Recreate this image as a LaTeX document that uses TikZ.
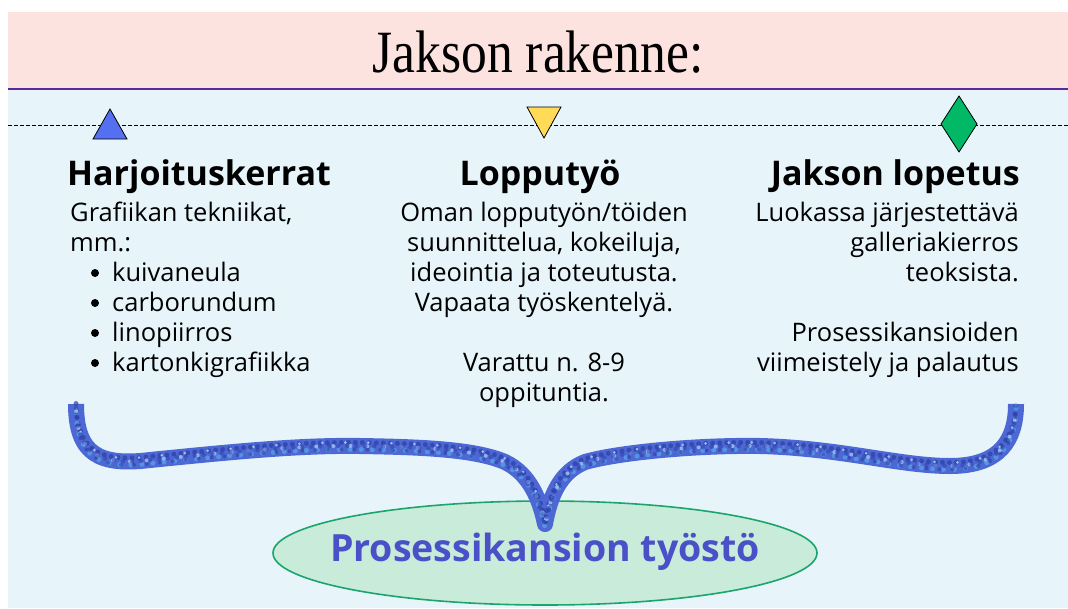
\documentclass[tikz,border=0pt]{standalone}
\usepackage{fontspec}
\setmainfont{Open Sans}
\newfontfamily\titlefont{Liberation Serif}
\usetikzlibrary{shapes.geometric}
\definecolor{bandpink}{HTML}{FDE3E0}
\definecolor{bandline}{HTML}{5B2A9A}
\definecolor{paneblue}{HTML}{E7F5FB}
\definecolor{mkblue}{HTML}{5470F0}
\definecolor{mkyellow}{HTML}{FFDB58}
\definecolor{mkgreen}{HTML}{00B865}
\definecolor{glitter}{HTML}{4D68D4}
\definecolor{glitterlight}{HTML}{A8C4F4}
\definecolor{glitterdark}{HTML}{2C3FA6}
\definecolor{glittercyan}{HTML}{58A8E8}
\definecolor{goalfill}{HTML}{C9EBD9}
\definecolor{goalline}{HTML}{1BA56C}
\definecolor{goaltext}{HTML}{4A50C8}
\newcommand{\listindent}{\hspace*{42pt}}
\tikzset{
  hdr/.style={font=\fontsize{34}{40}\selectfont\bfseries, inner sep=0pt},
  body/.style={font=\fontsize{25.5}{30}\selectfont, inner sep=0pt},
  marker/.style={draw=black, line width=0.8pt, line join=miter},
  speck/.style={line cap=round, dash pattern=on 0pt off #1},
}
\begin{document}
\begin{tikzpicture}[x=1pt,y=-1pt]
\useasboundingbox (0,0) rectangle (1068,608);
\fill[white] (0,0) rectangle (1068,608);
% panels
\fill[paneblue] (8,89) rectangle (1068,608);
\fill[bandpink] (8,12) rectangle (1068,89);
\draw[bandline, line width=2.2pt] (8,89) -- (1068,89);
\node[inner sep=0pt, anchor=base] (title) at (538,72)
  {\scalebox{0.86}[1]{\titlefont\fontsize{60}{66}\selectfont Jakson rakenne:}};

% timeline
\coordinate (tl) at (8,125);
\coordinate (tr) at (1068,125);
\draw[line width=1pt, dash pattern=on 4pt off 2pt] (tl) -- (tr);
\coordinate (mkA) at (110,124);
\coordinate (mkB) at (544,122);
\coordinate (mkC) at (959,124);
\draw[marker, fill=mkblue] ([shift={(0,-15)}]mkA) -- ([shift={(17,15)}]mkA) -- ([shift={(-17,15)}]mkA) -- cycle;
\draw[marker, fill=mkyellow] ([shift={(-17,-15)}]mkB) -- ([shift={(17,-15)}]mkB) -- ([shift={(0,16)}]mkB) -- cycle;
\draw[marker, fill=mkgreen] ([shift={(0,-28)}]mkC) -- ([shift={(18,0)}]mkC) -- ([shift={(0,28)}]mkC) -- ([shift={(-18,0)}]mkC) -- cycle;

% column headers
\node[hdr, anchor=base west] (hdrA) at (67,185) {Harjoituskerrat};
\node[hdr, anchor=base] (hdrB) at (540,185) {Lopputyö};
\node[hdr, anchor=base east] (hdrC) at (1020,185) {Jakson lopetus};

% column texts
\node[body, anchor=north west, align=left] (txtA) at (70,202)
  {Grafiikan tekniikat,\\
   mm.:\\
   \listindent kuivaneula\\
   \listindent carborundum\\
   \listindent linopiirros\\
   \listindent kartonkigrafiikka};
% list bullets
\foreach \k in {0,...,3}
  \fill (95,{273+30*\k}) circle (4pt);
\node[body, anchor=north, align=center] (txtB) at (544,202)
  {Oman lopputyön/töiden\\
   suunnittelua, kokeiluja,\\
   ideointia ja toteutusta.\\
   Vapaata työskentelyä.\\[30pt]
   Varattu n. 8-9\\
   oppituntia.};
\node[body, anchor=north east, align=right] (txtC) at (1019,202)
  {Luokassa järjestettävä\\
   galleriakierros\\
   teoksista.\\[30pt]
   Prosessikansioiden\\
   viimeistely ja palautus};

% goal ellipse
\node[ellipse, draw=goalline, line width=1.6pt, fill=goalfill,
      minimum width=544pt, minimum height=104pt, inner sep=0pt] (goal) at (545,553) {};
\node[inner sep=0pt, text=goaltext, font=\fontsize{37.5}{44}\selectfont\bfseries] (goallbl) at ([yshift=1pt]goal.center) {Prosessikansion työstö};

% glitter brace joining the three columns into the goal
\coordinate (braceL) at (76,404);
\coordinate (braceR) at (1016,404);
\coordinate (braceTip) at (545,524);
\def\bracepath{(braceL) .. controls (76,455) and (100,466) .. (150,460)
  .. controls (230,452) and (300,445) .. (360,446)
  .. controls (420,447) and (475,449) .. (505,462)
  .. controls (530,474) and (540,500) .. (braceTip)
  .. controls (550,496) and (560,472) .. (585,462)
  .. controls (620,452) and (700,445) .. (760,446)
  .. controls (840,448) and (900,466) .. (950,466)
  .. controls (1000,466) and (1016,440) .. (braceR)}
\draw[glitter, line width=16pt, line join=round] \bracepath;
\begin{scope}[transform canvas={yshift=3.5pt}]
  \draw[glitterdark, line width=5pt, speck=7pt, dash phase=4pt, opacity=0.7] \bracepath;
  \draw[glitterlight, line width=3pt, speck=23pt, dash phase=14pt, opacity=0.9] \bracepath;
\end{scope}
\begin{scope}[transform canvas={yshift=-3.5pt}]
  \draw[glittercyan, line width=5pt, speck=11pt, dash phase=6pt, opacity=0.7] \bracepath;
  \draw[glitterdark, line width=4pt, speck=13pt, dash phase=8pt, opacity=0.6] \bracepath;
\end{scope}
\draw[glitterlight, line width=4pt, speck=17pt, dash phase=10pt, opacity=0.8] \bracepath;
\draw[glitterdark, line width=4.5pt, speck=9pt, dash phase=5pt, opacity=0.5] \bracepath;
\end{tikzpicture}
\end{document}
